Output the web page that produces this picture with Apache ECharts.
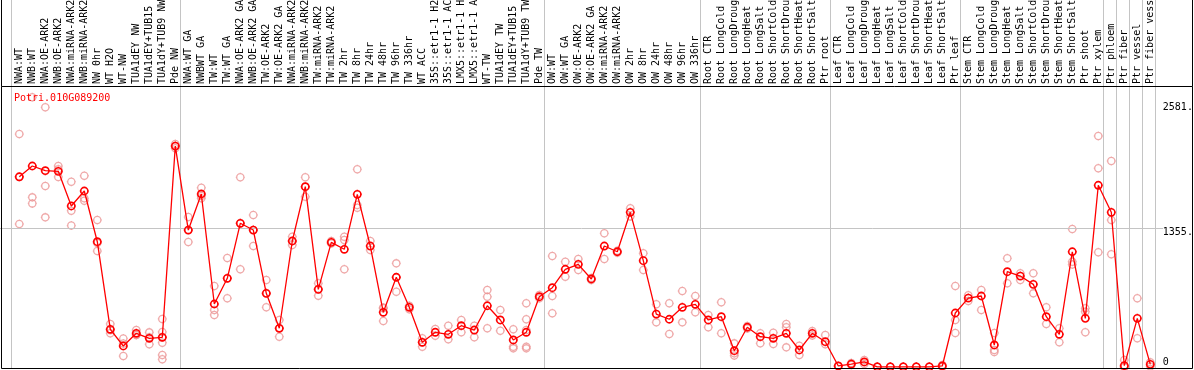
<!DOCTYPE html>
<html>
<head>
<meta charset="utf-8">
<script src="https://cdn.jsdelivr.net/npm/echarts@6/dist/echarts.min.js"></script>
<style>
html,body{margin:0;padding:0;background:#fff;}
#chart{width:1194px;height:370px;}
</style>
</head>
<body>
<div id="chart"></div>
<script>
const geneTitle = 'Potri.010G089200';

const categories = [
  'NWA:WT','NWB:WT','NWA:OE-ARK2','NWB:OE-ARK2','NWA:miRNA-ARK2','NWB:miRNA-ARK2','NW 0hr','WT H2O','WT-NW',
  'TUA1dEY NW','TUA1dEY+TUB15 NW','TUA1dY+TUB9 NW','Pde NW',
  'NWA:WT GA','NWBWT GA','TW:WT','TW:WT GA','NWA:OE-ARK2 GA','NWB:OE-ARK2 GA','TW:OE-ARK2','TW:OE-ARK2 GA',
  'NWA:miRNA-ARK2 GA','NWB:miRNA-ARK2 GA','TW:miRNA-ARK2','TW:miRNA-ARK2',
  'TW 2hr','TW 8hr','TW 24hr','TW 48hr','TW 96hr','TW 336hr','WT ACC',
  '35S::etr1-1 H2O','35S::etr1-1 ACC','LMX5::etr1-1 H2O','LMX5::etr1-1 ACC','WT-TW',
  'TUA1dEY TW','TUA1dEY+TUB15 TW','TUA1dY+TUB9 TW','Pde TW',
  'OW:WT','OW:WT GA','OW:OE-ARK2','OW:OE-ARK2 GA','OW:miRNA-ARK2','OW:miRNA-ARK2',
  'OW 2hr','OW 8hr','OW 24hr','OW 48hr','OW 96hr','OW 336hr',
  'Root CTR','Root LongCold','Root LongDrought','Root LongHeat','Root LongSalt',
  'Root ShortCold','Root ShortDrought','Root ShortHeat','Root ShortSalt','Ptr root',
  'Leaf CTR','Leaf LongCold','Leaf LongDrought','Leaf LongHeat','Leaf LongSalt',
  'Leaf ShortCold','Leaf ShortDrought','Leaf ShortHeat','Leaf ShortSalt','Ptr leaf',
  'Stem CTR','Stem LongCold','Stem LongDrought','Stem LongHeat','Stem LongSalt',
  'Stem ShortCold','Stem ShortDrought','Stem ShortHeat','Stem ShortSalt','Ptr shoot',
  'Ptr xylem','Ptr phloem','Ptr fiber','Ptr vessel','Ptr fiber vessel'
];

const meanValues = [
  1857,1962,1916,1910,1572,1718,1223,368,205,329,280,290,2157,
  1337,1689,615,866,1403,1337,719,378,1230,1760,758,1217,
  1149,1686,1181,534,876,583,241,339,319,403,361,598,459,264,339,686,
  774,954,1002,859,1181,1125,1510,1038,517,466,583,612,
  459,491,159,388,296,280,329,166,329,247,
  10,29,49,2,2,2,2,2,10,527,
  673,693,215,930,888,807,491,319,1125,475,
  1774,1510,13,475,26
];

const replicateValues = [
  [2274,1855,1396],[2633,1656,1597],[2535,1767,1461],[1962,1855,1930],[1809,1526,1381],[1867,1647,1623],
  [1435,1210,1132],[420,329,360],[279,229,107],[361,312,315],[338,290,222],[469,342,290,237,117,75],[2177,2157,2135],
  [1464,1337,1220],[1750,1670,1647],[791,556,508],[1064,671,866],[1852,954,1403],[1484,1337,1181],
  [849,583,719],[459,296,378],[1272,1191,1230],[1852,1662,1760],[817,696,758],[1230,1205],
  [1272,1240,954],[1930,1581,1555],[1230,1142],[573,580,449],[1012,735,876],[599,563],[280,198,241],
  [372,305],[403,270],[459,339],[403,290],[752,686,378],[556,354],[368,198,182],
  [622,466,361,198,182],[703,670],
  [1083,693,524],[1028,881],[1054,947],[870,850],[1305,1054],[1135,1115],[1549,1470],
  [1110,947],[612,436],[622,322],[742,436],[693,534],
  [508,388],[632,329],[231,134,112],[400,376],[329,231],[335,225],[420,388,192],[208,117],[351,307],[312,222],
  [10,10],[39,19],[68,29],[2,2],[2,2],[2,2],[2,2],[2,2],[20,0],[791,332,458],
  [700,645],[752,556],[332,166,147],[1061,817],[915,849],[915,719],[583,420],[378,241],[1347,1028,1000],[573,540,339],
  [2255,1940,1120],[2011,1435,1100],[68,0,0],[671,280],[46,6]
];

const yTickValues = [0, 1355, 2581];
const groupBoundaries = [0, 13, 41, 53, 63, 73, 84, 85, 86, 87, 88];
const gridLineValue = 1355;

const MONO = '"DejaVu Sans Mono", "Liberation Mono", monospace';
const RED = '#ff0000';
const PINK = '#eb9494';
const GRAY = '#c4c4c4';
const markerPath = 'path://M5,0L5,0.9M5,9.1L5,10M0,5L0.9,5M9.1,5L10,5M1,5A4,4,0,1,1,9,5A4,4,0,1,1,1,5Z';

const replicatePoints = [];
replicateValues.forEach((arr, i) => arr.forEach(v => replicatePoints.push([i, v])));

const chart = echarts.init(document.getElementById('chart'), null, {renderer: 'canvas'});

const plotLeft = 12.8, plotWidth = 1144;
const lineAreaWidth = 1163;
const pxPerCat = 13;
const firstBoundaryPx = 11.5;
const vMin = -firstBoundaryPx / pxPerCat;
const vMax = vMin + lineAreaWidth / pxPerCat;

chart.setOption({
  animation: false,
  backgroundColor: '#fff',
  title: {
    text: geneTitle,
    left: 9, top: 88,
    textStyle: {fontFamily: MONO, fontSize: 10, fontWeight: 'normal', color: RED}
  },
  grid: [
    {left: plotLeft, width: plotWidth, top: 102.6, bottom: 3, containLabel: false, outerBoundsMode: 'none'},
    {left: 0, width: lineAreaWidth, top: 102.6, bottom: 3, containLabel: false, outerBoundsMode: 'none'},
    {left: 0, width: lineAreaWidth, top: 0, bottom: 1, containLabel: false, outerBoundsMode: 'none'}
  ],
  xAxis: [
    {
      gridIndex: 0, type: 'category', data: categories, position: 'top', boundaryGap: true,
      axisLine: {show: false}, axisTick: {show: false}, splitLine: {show: false},
      axisLabel: {interval: 0, rotate: 90, margin: 18.6, fontFamily: MONO, fontSize: 10, color: '#000', hideOverlap: false}
    },
    {gridIndex: 1, type: 'value', min: 0, max: 1, show: false},
    {gridIndex: 2, type: 'value', min: vMin, max: vMax, show: false}
  ],
  yAxis: [
    {
      gridIndex: 0, type: 'value', min: 0, max: 2581, position: 'right',
      axisLine: {show: false}, axisTick: {show: false}, splitLine: {show: false},
      axisLabel: {
        customValues: yTickValues, margin: 6, align: 'left', verticalAlign: 'middle',
        fontFamily: MONO, fontSize: 10, color: '#000',
        formatter: v => v === 0 ? '{lo|0}' : '{hi|' + v + '.}',
        rich: {
          lo: {fontFamily: MONO, fontSize: 10, color: '#000', padding: [0, 0, 9, 0]},
          hi: {fontFamily: MONO, fontSize: 10, color: '#000', padding: [9, 0, 0, 0]}
        }
      }
    },
    {gridIndex: 1, type: 'value', min: 0, max: 2581, show: false},
    {gridIndex: 2, type: 'value', min: 0, max: 1, show: false}
  ],
  graphic: [
    {type: 'rect', silent: true, z: 100, shape: {x: 1.5, y: 86.5, width: 1191, height: 282},
     style: {fill: null, stroke: '#000', lineWidth: 1}},
    {type: 'line', silent: true, z: 100, shape: {x1: 1.5, y1: 0, x2: 1.5, y2: 86.5},
     style: {stroke: '#000', lineWidth: 1}},
    {type: 'line', silent: true, z: 100, shape: {x1: 1192.5, y1: 0, x2: 1192.5, y2: 86.5},
     style: {stroke: '#000', lineWidth: 1}}
  ],
  series: [
    {
      type: 'scatter', xAxisIndex: 1, yAxisIndex: 1, data: [], silent: true, z: 1,
      markLine: {silent: true, symbol: 'none', label: {show: false}, animation: false,
        lineStyle: {color: GRAY, width: 1, type: 'solid'},
        data: [{yAxis: gridLineValue}]}
    },
    {
      type: 'scatter', xAxisIndex: 2, yAxisIndex: 2, data: [], silent: true, z: 1,
      markLine: {silent: true, symbol: 'none', label: {show: false}, animation: false,
        lineStyle: {color: GRAY, width: 1, type: 'solid'},
        data: groupBoundaries.map(b => ({xAxis: b}))}
    },
    {
      name: 'replicates', type: 'scatter', xAxisIndex: 0, yAxisIndex: 0, z: 3,
      data: replicatePoints, symbol: markerPath, symbolSize: 9, clip: false,
      itemStyle: {color: 'rgba(0,0,0,0)', borderColor: PINK, borderWidth: 1.3}
    },
    {
      name: 'mean', type: 'line', xAxisIndex: 0, yAxisIndex: 0, z: 5,
      data: meanValues, symbol: markerPath, symbolSize: 9, showAllSymbol: true, clip: false,
      lineStyle: {color: RED, width: 1.3},
      itemStyle: {color: 'rgba(0,0,0,0)', borderColor: RED, borderWidth: 1.6}
    }
  ]
});
</script>
</body>
</html>
